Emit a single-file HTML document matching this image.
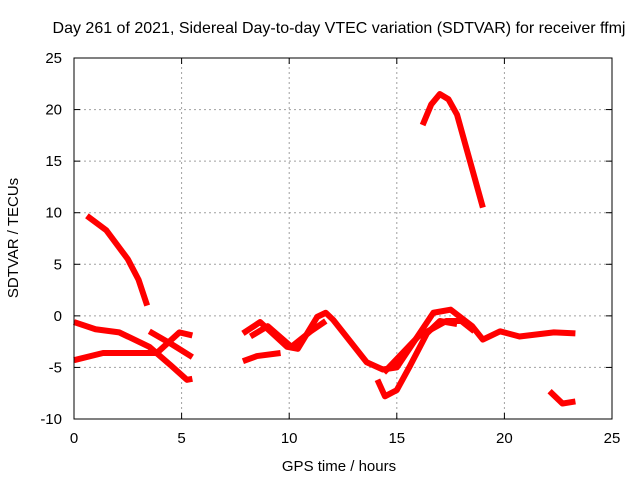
<!DOCTYPE html>
<html><head><meta charset="utf-8"><style>
body{margin:0;background:#fff}
svg text{font-family:"Liberation Sans",sans-serif;font-size:15px;fill:#000}
</style></head><body>
<svg id="c" width="640" height="480">
<rect width="640" height="480" fill="#fff"/>
<g id="grid"></g><g id="series"></g><g id="axes"></g>
<text x="339" y="33" text-anchor="middle" style="font-size:16px">Day 261 of 2021, Sidereal Day-to-day VTEC variation (SDTVAR) for receiver ffmj</text>
<text x="339" y="471" text-anchor="middle">GPS time / hours</text>
<text transform="translate(18,238) rotate(-90)" text-anchor="middle">SDTVAR / TECUs</text>
</svg>
<script>
const xTicks=[0,5,10,15,20,25];
const yTicks=[-10,-5,0,5,10,15,20,25];
const seriesA=[[0.6,9.7],[1.5,8.3],[2.5,5.5],[3.0,3.5],[3.4,1.0]];
const seriesB=[[16.2,18.5],[16.6,20.5],[17.0,21.5],[17.4,21],[17.8,19.5],[18.2,16.5],[18.6,13.5],[19.0,10.5]];
const seriesC=[[0,-0.6],[1.0,-1.3],[2.1,-1.6],[2.5,-2],[3.5,-3],[4.5,-4.8],[5.25,-6.2],[5.5,-6.1]];
const seriesD=[[3.5,-1.5],[4.5,-2.7],[5.5,-4]];
const seriesE=[[0,-4.3],[1.35,-3.6],[3.85,-3.6],[4.9,-1.6],[5.5,-1.9]];
const seriesF=[[7.85,-1.7],[8.65,-0.6],[9.9,-3],[10.4,-3.2],[11.3,-0.1],[11.7,0.3],[12.05,-0.4],[13.6,-4.5],[14.35,-5.2],[15,-5],[16.7,0.3],[17.5,0.6],[18.5,-1],[19,-2.3],[19.8,-1.5],[20.7,-2],[22.3,-1.6],[23.3,-1.7]];
const seriesG=[[7.85,-4.4],[8.5,-3.9],[9.6,-3.6]];
const seriesH=[[8.2,-2],[9,-1],[10.1,-3],[11,-1.5],[11.7,-0.5]];
const seriesI=[[14.1,-6.2],[14.45,-7.8],[15,-7.2],[15.6,-4.9],[16.4,-1.7],[17,-0.5],[17.8,-0.8]];
const seriesJ=[[14.4,-5.5],[16,-2],[17.3,-0.5],[18,-0.5],[18.6,-1.5]];
const seriesK=[[22.1,-7.3],[22.7,-8.5],[23.3,-8.3]];
const allSeries=[seriesA,seriesB,seriesC,seriesD,seriesE,seriesF,seriesG,seriesH,seriesI,seriesJ,seriesK];
const X0=74,X1=612,Y0=419,Y1=58;
const sx=h=>X0+(h-0)/25*(X1-X0);
const sy=v=>Y0-(v+10)/35*(Y0-Y1);
const NS="http://www.w3.org/2000/svg";
function mk(t,p,a){const e=document.createElementNS(NS,t);for(const k in a)e.setAttribute(k,a[k]);p.appendChild(e);return e;}
const grid=document.getElementById('grid'),axes=document.getElementById('axes'),ser=document.getElementById('series');
xTicks.forEach(t=>{
 if(t>0&&t<25){const l=mk('line',grid,{x1:sx(t),x2:sx(t),y1:Y0,y2:Y1,stroke:'#a0a0a0','stroke-dasharray':'2,3'});
 }
 const tx=mk('text',axes,{x:sx(t),y:Y0+24,'text-anchor':'middle'});tx.textContent=t;
 
 mk('line',axes,{x1:sx(t),x2:sx(t),y1:Y0,y2:Y0-6,stroke:'#000'});mk('line',axes,{x1:sx(t),x2:sx(t),y1:Y1,y2:Y1+6,stroke:'#000'});
});
yTicks.forEach(t=>{
 if(t>-10&&t<25){const l=mk('line',grid,{x1:X0,x2:X1,y1:sy(t),y2:sy(t),stroke:'#a0a0a0','stroke-dasharray':'2,3'});
 }
 const tx=mk('text',axes,{x:X0-12,y:sy(t)+5,'text-anchor':'end'});tx.textContent=t;
 
 mk('line',axes,{x1:X0,x2:X0+6,y1:sy(t),y2:sy(t),stroke:'#000'});mk('line',axes,{x1:X1,x2:X1-6,y1:sy(t),y2:sy(t),stroke:'#000'});
});
const fr=mk('rect',axes,{x:X0,y:Y1,width:X1-X0,height:Y0-Y1,fill:'none',stroke:'#000'});

allSeries.forEach(s=>{
 const p=mk('polyline',ser,{points:s.map(d=>sx(d[0])+','+sy(d[1])).join(' '),fill:'none',stroke:'#ff0000','stroke-width':6,'stroke-linejoin':'round'});
 
});
</script>
</body></html>
